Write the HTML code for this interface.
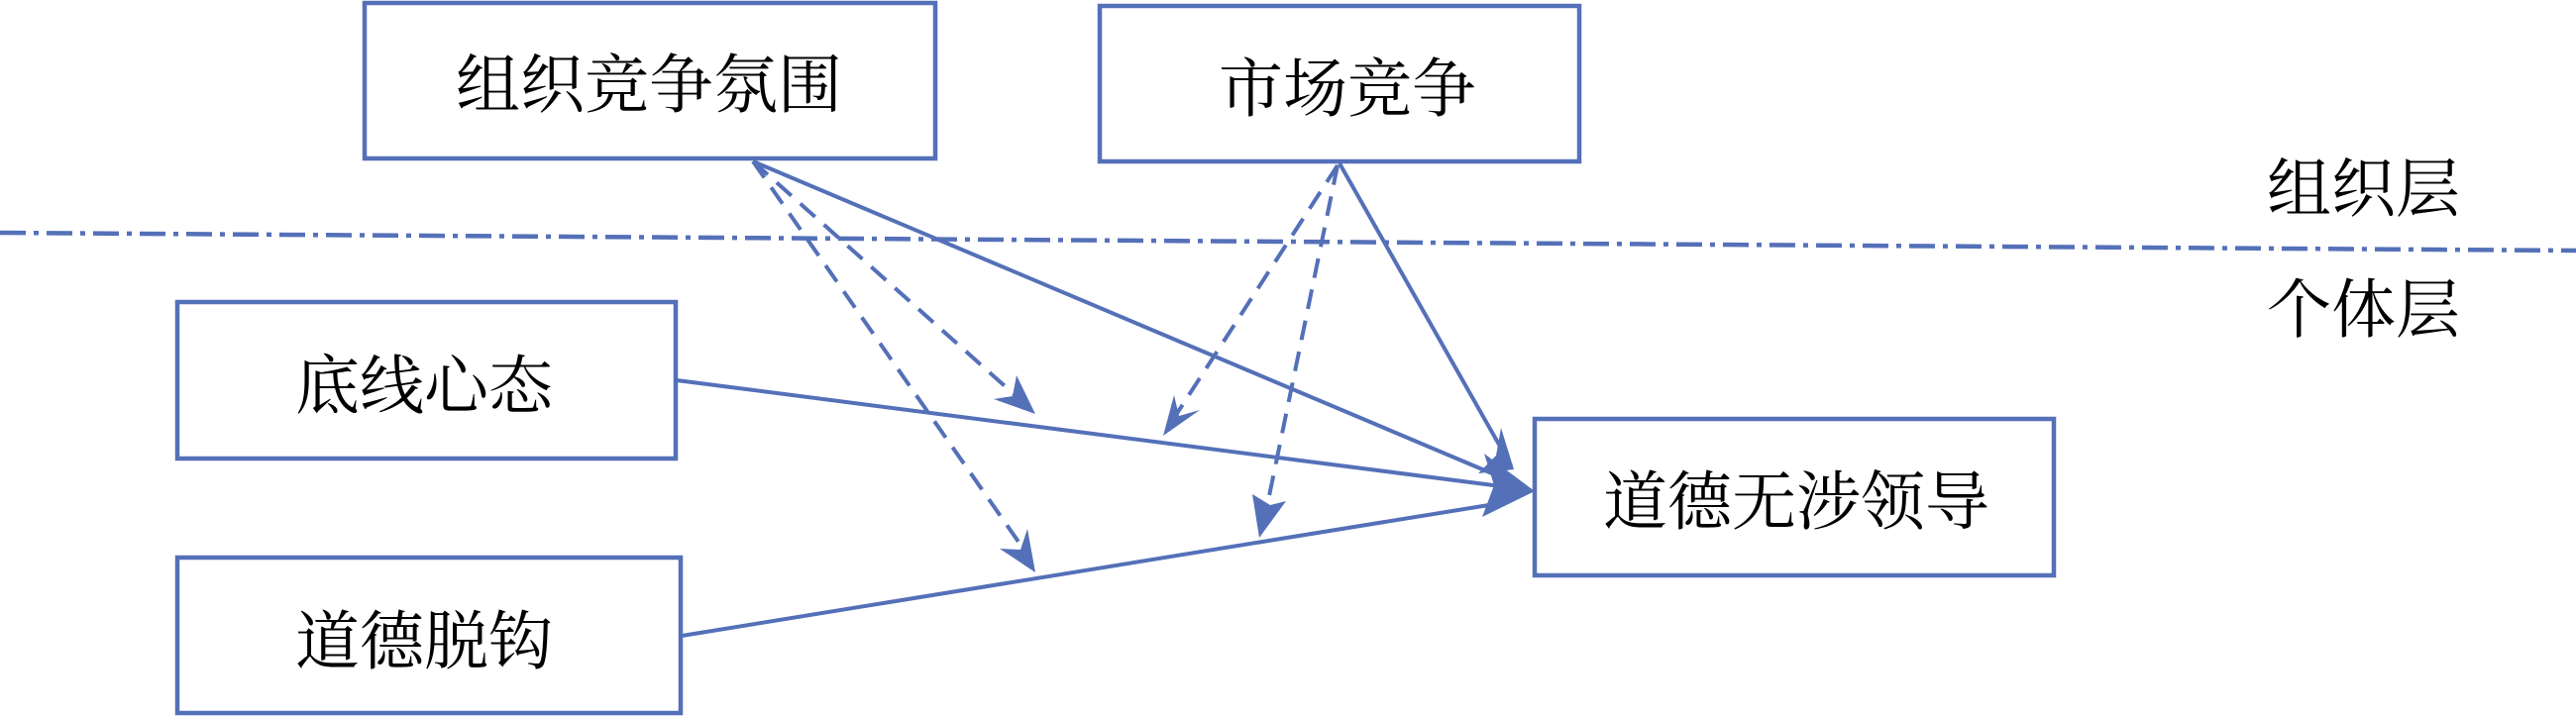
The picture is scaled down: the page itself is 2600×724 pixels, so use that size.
<!DOCTYPE html>
<html><head><meta charset="utf-8"><style>
html,body{margin:0;padding:0;background:#fff;}
svg{display:block;}
text{font-family:"Liberation Serif","Noto Serif CJK SC",serif;font-size:65px;fill:#000;}
</style></head><body>
<svg width="2600" height="724" viewBox="0 0 2600 724" xmlns="http://www.w3.org/2000/svg">
<g fill="none" stroke="#5470b8" stroke-width="4.5">
<rect x="368" y="3" width="576" height="157"/>
<rect x="1110" y="6" width="484" height="157"/>
<rect x="179" y="305" width="503" height="158"/>
<rect x="179" y="563" width="508" height="157"/>
<rect x="1549" y="423" width="524" height="158"/>
</g>
<line x1="0" y1="235" x2="2600" y2="253" stroke="#5470b8" stroke-width="4.5" stroke-dasharray="26,8,5,8"/>
<g stroke="#5470b8" stroke-width="4" fill="none">
<line x1="760" y1="163" x2="1520" y2="484"/>
<line x1="1352" y1="165" x2="1525" y2="470"/>
<line x1="683" y1="384" x2="1515" y2="491"/>
<line x1="688" y1="642" x2="1515" y2="508"/>
</g>
<g stroke="#5470b8" stroke-width="4" fill="none" stroke-dasharray="20,12">
<line x1="760" y1="163" x2="1030" y2="404"/>
<line x1="760" y1="163" x2="1037" y2="560"/>
<line x1="1350" y1="167" x2="1185" y2="422"/>
<line x1="1350" y1="167" x2="1276" y2="525"/>
</g>
<g fill="#5470b8">
<polygon points="1549,496 1498,458 1508,490 1496,522"/>
<polygon points="1528,474 1515,432 1510,460 1492,478"/>
<polygon points="1045,418 1026,379 1022,400 1003,403"/>
<polygon points="1045,578 1037,534 1030,555 1009,554"/>
<polygon points="1174,440 1185,399 1190,420 1211,414"/>
<polygon points="1271,543 1264,499 1282,510 1298,506"/>
</g>
<text x="460" y="108">组织竞争氛围</text>
<text x="1230" y="112">市场竞争</text>
<text x="298" y="412">底线心态</text>
<text x="298" y="670">道德脱钩</text>
<text x="1618" y="529">道德无涉领导</text>
<text x="2288" y="213">组织层</text>
<text x="2288" y="335">个体层</text>
</svg>
</body></html>
